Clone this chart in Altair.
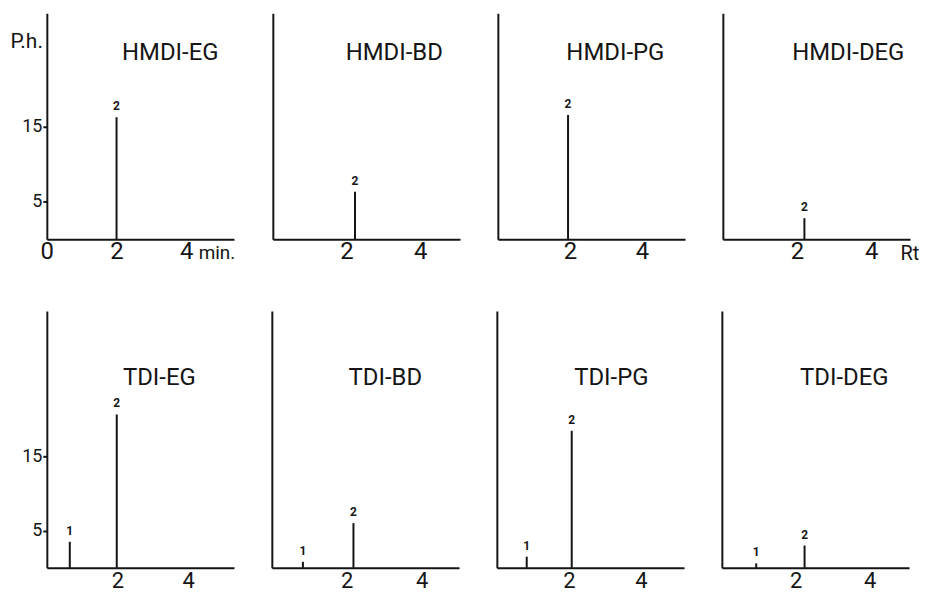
import altair as alt
import pandas as pd

INK = "#151515"
FONT = "Roboto"

# ---- data ---------------------------------------------------------------
top_samples = ["HMDI-EG", "HMDI-BD", "HMDI-PG", "HMDI-DEG"]
bottom_samples = ["TDI-EG", "TDI-BD", "TDI-PG", "TDI-DEG"]

peak_sample = ["HMDI-EG", "HMDI-BD", "HMDI-PG", "HMDI-DEG",
               "TDI-EG", "TDI-EG", "TDI-BD", "TDI-BD",
               "TDI-PG", "TDI-PG", "TDI-DEG", "TDI-DEG"]
peak_no = ["2", "2", "2", "2", "1", "2", "1", "2", "1", "2", "1", "2"]
peak_rt = [2.0, 2.23, 1.95, 2.2, 0.65, 1.98, 0.83, 2.18, 0.83, 2.08, 0.93, 2.24]
peak_height = [16.2, 6.3, 16.5, 2.8, 3.5, 20.6, 0.8, 6.0, 1.5, 18.4, 0.6, 3.0]

x_ticks_first = [0, 2, 4]
x_ticks_other = [2, 4]
y_ticks = [5, 15]

df = pd.DataFrame({"sample": peak_sample, "peak": peak_no,
                   "rt": peak_rt, "height": peak_height})

# ---- layout -------------------------------------------------------------
W = 188
ROWS = [
    dict(samples=top_samples, xmax=[5.37, 5.08, 5.2, 5.05], ymax=30, height=227,
         label_pad=0, label_size=24, title_cy=40,
         title_cx=[124, 122, 118, 126], first_extent=37),
    dict(samples=bottom_samples, xmax=[5.3, 5.0, 5.2, 5.07], ymax=34.5, height=258,
         label_pad=3, label_size=22, title_cy=67,
         title_cx=[113, 114, 115, 123], first_extent=35),
]


def panel(ri, ci):
    r = ROWS[ri]
    name = r["samples"][ci]
    first = ci == 0

    xa = dict(values=x_ticks_first if (ri == 0 and first) else x_ticks_other,
              ticks=False, grid=False, domainColor=INK, domainWidth=2,
              labelFont=FONT, labelFontSize=r["label_size"], labelColor=INK,
              labelPadding=r["label_pad"], labelFlush=False)
    xtitle = None
    if ri == 0 and ci == 0:
        xtitle = "min."
        xa.update(titleX=152, titleY=19, titleFontSize=19)
    elif ri == 0 and ci == 3:
        xtitle = "Rt"
        xa.update(titleX=178, titleY=20, titleFontSize=20)
    if xtitle:
        xa.update(titleAlign="left", titleBaseline="alphabetic", titleFont=FONT,
                  titleFontWeight="normal", titleColor=INK, titleAngle=0)

    if first:
        ya = dict(values=y_ticks, grid=False, domainColor=INK, domainWidth=2,
                  ticks=True, tickSize=4, tickWidth=2, tickColor=INK,
                  labelFont=FONT, labelFontSize=18, labelColor=INK, labelPadding=1,
                  minExtent=r["first_extent"], maxExtent=r["first_extent"])
    else:
        ya = dict(grid=False, domainColor=INK, domainWidth=2, ticks=False,
                  labels=False, minExtent=30, maxExtent=30)
    ytitle = None
    if ri == 0 and first:
        ytitle = "P.h."
        ya.update(titleAngle=0, titleX=-37, titleY=34, titleAlign="left",
                  titleBaseline="alphabetic", titleFont=FONT, titleFontSize=21,
                  titleFontWeight="normal", titleColor=INK)

    x = alt.X("rt:Q", title=xtitle,
              scale=alt.Scale(domain=[0, r["xmax"][ci]], nice=False, zero=True),
              axis=alt.Axis(**xa))
    y = alt.Y("height:Q", title=ytitle,
              scale=alt.Scale(domain=[0, r["ymax"]], nice=False),
              axis=alt.Axis(**ya))

    base = alt.Chart(df).transform_filter(alt.datum.sample == name)
    peaks = base.mark_rule(color=INK, strokeWidth=2).encode(
        x=x, y=y, y2=alt.datum(0))
    labels = base.mark_text(baseline="bottom", dy=-4, font=FONT, fontSize=12,
                            fontWeight="bold", color=INK).encode(x=x, y=y, text="peak:N")
    title = alt.Chart(pd.DataFrame({"name": [name]})).mark_text(
        align="center", baseline="middle", font=FONT, fontSize=24, color=INK
    ).encode(x=alt.value(r["title_cx"][ci]), y=alt.value(r["title_cy"]),
             text="name:N")

    return alt.layer(peaks, labels, title).properties(width=W, height=r["height"])


rows = [alt.hconcat(*[panel(ri, ci) for ci in range(4)], spacing=8) for ri in range(2)]
chart = alt.vconcat(*rows, spacing=48).properties(
    padding={"left": 2, "top": 4, "right": 0, "bottom": 0},
    background="white",
).configure(font=FONT).configure_view(strokeWidth=0)

chart.save("out.html", embed_options={"renderer": "svg", "actions": False})
